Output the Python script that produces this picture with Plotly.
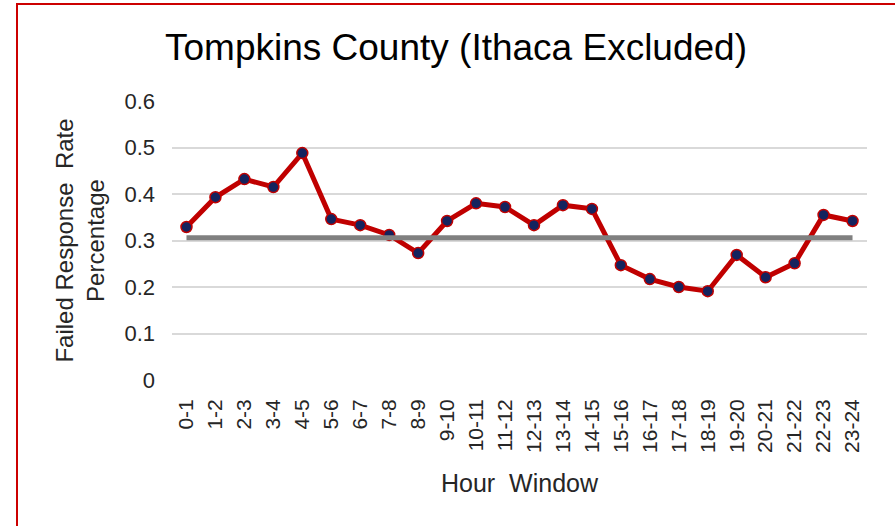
import plotly.graph_objects as go

hours = ["0-1", "1-2", "2-3", "3-4", "4-5", "5-6", "6-7", "7-8", "8-9", "9-10",
         "10-11", "11-12", "12-13", "13-14", "14-15", "15-16", "16-17", "17-18",
         "18-19", "19-20", "20-21", "21-22", "22-23", "23-24"]
failed_rate = [0.329, 0.393, 0.432, 0.415, 0.488, 0.346, 0.333, 0.312, 0.273, 0.342,
               0.380, 0.372, 0.333, 0.376, 0.368, 0.247, 0.217, 0.200, 0.191, 0.269,
               0.221, 0.251, 0.355, 0.342]
average_rate = 0.306
avg_line = [average_rate for _ in hours]
y_ticks = [0, 0.1, 0.2, 0.3, 0.4, 0.5, 0.6]
y_tick_text = ["0", "0.1", "0.2", "0.3", "0.4", "0.5", "0.6"]

W, H = 895, 526
L, R, T, B = 172, 28, 101, 146
pw, ph = W - L - R, H - T - B

fig = go.Figure()
fig.add_trace(go.Scatter(
    x=hours, y=failed_rate, mode="lines+markers",
    line=dict(color="#c00000", width=5),
    marker=dict(color="#14235e", size=11, line=dict(color="#c00000", width=1.5)),
    showlegend=False, hoverinfo="x+y"))
fig.add_trace(go.Scatter(
    x=hours, y=avg_line, mode="lines",
    line=dict(color="#808080", width=5),
    showlegend=False))

font_family = "Liberation Sans, Arial, sans-serif"

fig.update_layout(
    width=W, height=H,
    margin=dict(l=L, r=R, t=T, b=B, autoexpand=False),
    paper_bgcolor="white", plot_bgcolor="white",
    font=dict(family=font_family, color="#262626"),
    title=dict(text="Tompkins County (Ithaca Excluded)",
               x=456 / W, xanchor="center", xref="container",
               y=1 - 47 / H, yanchor="middle", yref="container",
               font=dict(size=37, color="#000000", family=font_family)),
    xaxis=dict(type="category", range=[-0.5, len(hours) - 0.5],
               showgrid=False, zeroline=False, showline=False,
               automargin=False,
               tickangle=-90, tickfont=dict(size=21, color="#262626"),
               ticklabelstandoff=14,
               title=dict(text="Hour  Window", font=dict(size=25, color="#262626"),
                          standoff=22)),
    yaxis=dict(range=[0, 0.6], tickvals=y_ticks, ticktext=y_tick_text,
               automargin=False,
               showgrid=True, gridcolor="#d9d9d9", gridwidth=1.5,
               zeroline=False, showline=False,
               tickfont=dict(size=22, color="#262626"),
               ticklabelstandoff=16,
               title=dict(text="Failed Response  Rate<br>Percentage",
                          font=dict(size=24, color="#262626"), standoff=12)),
)

# outer red frame
fig.add_shape(type="rect", xref="paper", yref="paper",
              x0=(17 - L) / pw, x1=(W + 20 - L) / pw,
              y0=-(H + 20 - T - ph) / ph, y1=1 + (T - 4) / ph,
              line=dict(color="#cc0000", width=2), fillcolor="rgba(0,0,0,0)",
              layer="below")

fig.write_html("out.html",
               config={"displayModeBar": False},
               post_script="document.body.style.margin='0';document.body.style.overflow='hidden';")
